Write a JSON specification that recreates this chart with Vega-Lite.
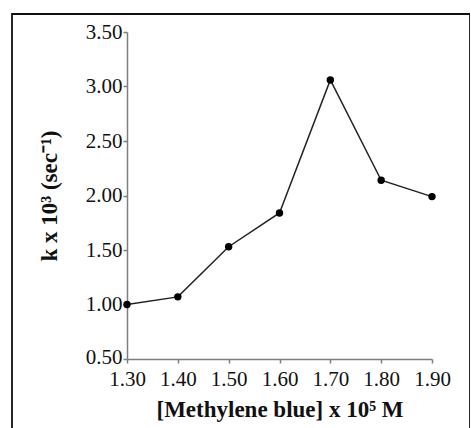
{
  "$schema": "https://vega.github.io/schema/vega-lite/v6.json",
  "width": 458,
  "height": 420,
  "autosize": "none",
  "padding": {"left": 12, "top": 14, "right": 0, "bottom": 0},
  "background": "white",
  "config": {
    "view": {"stroke": "#111111", "strokeWidth": 1.8},
    "font": "Liberation Serif"
  },
  "data": {
    "values": [
      {"conc": 1.3, "k": 1.0},
      {"conc": 1.4, "k": 1.07},
      {"conc": 1.5, "k": 1.53},
      {"conc": 1.6, "k": 1.84},
      {"conc": 1.7, "k": 3.06},
      {"conc": 1.8, "k": 2.14},
      {"conc": 1.9, "k": 1.99}
    ]
  },
  "encoding": {
    "x": {
      "field": "conc",
      "type": "quantitative",
      "scale": {"domain": [1.3, 1.9], "range": [115, 420], "nice": false, "zero": false},
      "axis": {
        "title": "[Methylene blue] x 10⁵ M",
        "offset": -75,
        "values": [1.3, 1.4, 1.5, 1.6, 1.7, 1.8, 1.9],
        "format": ".2f",
        "grid": false,
        "domainColor": "#7f7f7f",
        "domainWidth": 1.5,
        "tickColor": "#7f7f7f",
        "tickWidth": 1.5,
        "tickSize": 4,
        "labelFont": "Liberation Serif",
        "labelFontSize": 21,
        "labelColor": "#111111",
        "labelPadding": 5,
        "labelFlush": false,
        "titleFont": "Liberation Serif",
        "titleFontSize": 23,
        "titleFontWeight": "bold",
        "titleColor": "#111111",
        "titlePadding": 9
      }
    },
    "y": {
      "field": "k",
      "type": "quantitative",
      "scale": {"domain": [0.5, 3.5], "range": [345, 18], "nice": false, "zero": false},
      "axis": {
        "title": "k x 10³ (sec⁻¹)",
        "offset": -115,
        "values": [0.5, 1.0, 1.5, 2.0, 2.5, 3.0, 3.5],
        "format": ".2f",
        "grid": false,
        "domainColor": "#7f7f7f",
        "domainWidth": 1.5,
        "tickColor": "#7f7f7f",
        "tickWidth": 1.5,
        "tickSize": 4,
        "labelFont": "Liberation Serif",
        "labelFontSize": 21,
        "labelColor": "#111111",
        "labelPadding": 1,
        "labelFlush": false,
        "labelOffset": {"condition": {"test": "datum.value === 0.5", "value": -1.5}, "value": 0},
        "titleFont": "Liberation Serif",
        "titleFontSize": 23,
        "titleFontWeight": "bold",
        "titleColor": "#111111",
        "titlePadding": 24
      }
    }
  },
  "layer": [
    {"mark": {"type": "line", "color": "#222222", "strokeWidth": 1.5}},
    {"mark": {"type": "point", "filled": true, "color": "#000000", "size": 55, "opacity": 1}}
  ]
}
